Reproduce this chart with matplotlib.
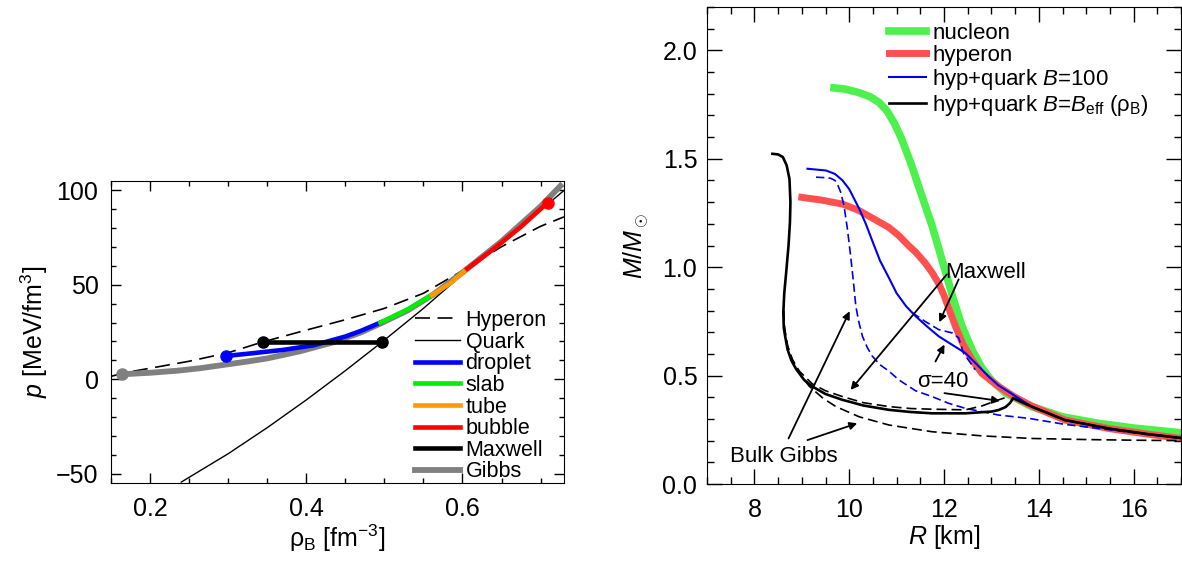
import matplotlib
matplotlib.use("Agg")
import matplotlib.pyplot as plt
from matplotlib.ticker import MultipleLocator, FormatStrFormatter

plt.rcParams["font.family"] = ["Liberation Sans", "DejaVu Sans"]
plt.rcParams["mathtext.fontset"] = "custom"
plt.rcParams["mathtext.rm"] = "Liberation Sans"
plt.rcParams["mathtext.it"] = "Liberation Sans:italic"
plt.rcParams["font.size"] = 18
plt.rcParams["lines.solid_joinstyle"] = "round"
plt.rcParams["lines.dash_joinstyle"] = "round"

# ---- left panel: p(rho_B) ----
hyp_rho = [0.15, 0.17, 0.2, 0.25, 0.3, 0.344, 0.4, 0.45, 0.5, 0.55, 0.6, 0.65, 0.7, 0.73]
hyp_p = [1.5, 3.6, 5.8, 9.5, 14.0, 19.7, 26.0, 31.5, 37.5, 45.5, 57.5, 70.2, 81.0, 86.0]

qrk_rho = [0.24, 0.3, 0.35, 0.4, 0.45, 0.497, 0.55, 0.6, 0.65, 0.7, 0.73]
qrk_p = [-54.5, -39.5, -25.7, -11.0, 4.5, 19.7, 37.5, 55.5, 72.5, 89.5, 100.0]

gibbs_rho = [0.164, 0.2, 0.235, 0.264, 0.298, 0.325, 0.35, 0.392, 0.435, 0.47, 0.495,
             0.53, 0.563, 0.6, 0.65, 0.7, 0.728]
gibbs_p = [2.6, 3.4, 4.5, 5.8, 7.8, 9.4, 11.0, 14.8, 19.6, 24.8, 29.5,
           36.5, 45.0, 56.5, 73.0, 91.5, 103.5]

drop_rho = [0.297, 0.33, 0.37, 0.41, 0.45, 0.47, 0.495]
drop_p = [12.3, 13.7, 15.5, 18.0, 22.6, 25.6, 30.0]
slab_rho = [0.495, 0.53, 0.561]
slab_p = [30.0, 37.0, 44.6]
tube_rho = [0.561, 0.585, 0.606]
tube_p = [44.6, 51.0, 58.5]
bub_rho = [0.606, 0.64, 0.675, 0.709]
bub_p = [58.5, 69.0, 80.8, 93.5]
maxw_rho = [0.344, 0.497]
maxw_p = [19.7, 19.7]

# ---- right panel: M(R) ----
nuc_R = [9.68, 9.9, 10.21, 10.45, 10.63, 10.8, 10.95, 11.1, 11.3, 11.5, 11.75, 12.03,
         12.2, 12.38, 12.6, 12.8, 13.0, 13.3, 13.85, 14.5, 15.25, 16.0, 17.0]
nuc_M = [1.827, 1.822, 1.805, 1.785, 1.76, 1.72, 1.665, 1.595, 1.48, 1.35, 1.19, 0.98,
         0.85, 0.728, 0.615, 0.535, 0.478, 0.42, 0.357, 0.31, 0.28, 0.258, 0.236]

hyp_R = [9.0, 9.4, 9.86, 10.2, 10.5, 10.84, 11.05, 11.25, 11.4, 11.6, 11.75, 11.9, 12.0,
         12.24, 12.4, 12.59, 12.8, 13.15, 13.5, 13.85, 14.55, 15.5, 16.3, 17.0]
hyp_M = [1.322, 1.31, 1.291, 1.262, 1.225, 1.183, 1.145, 1.10, 1.07, 1.02, 0.975, 0.92, 0.87,
         0.728, 0.645, 0.573, 0.51, 0.45, 0.40, 0.36, 0.295, 0.255, 0.23, 0.21]

b100_R = [9.12, 9.51, 9.7, 9.86, 10.0, 10.21, 10.35, 10.49, 10.65, 10.84, 11.0, 11.2, 11.4,
          11.65, 11.89, 12.15, 12.45, 12.7, 12.94, 13.15, 13.4, 13.85, 14.55, 15.5, 16.3, 17.0]
b100_M = [1.454, 1.446, 1.43, 1.40, 1.36, 1.27, 1.20, 1.12, 1.03, 0.95, 0.88, 0.82, 0.774,
          0.725, 0.681, 0.645, 0.604, 0.55, 0.496, 0.455, 0.42, 0.357, 0.295, 0.255, 0.23, 0.212]

b100_max_R = [11.33, 11.6, 11.89, 12.17, 12.31, 12.41, 12.66]
b100_max_M = [0.79, 0.75, 0.712, 0.697, 0.674, 0.604, 0.527]

b100_gib_R = [9.30, 9.5, 9.61, 9.7, 9.75, 9.82, 9.89, 9.96, 10.03, 10.09, 10.14, 10.2, 10.28,
              10.38, 10.49, 10.65, 10.84, 11.05, 11.4, 11.75, 12.1, 12.45, 13.15, 13.78,
              14.55, 15.5, 16.3, 17.0]
b100_gib_M = [1.415, 1.413, 1.41, 1.40, 1.384, 1.346, 1.284, 1.18, 1.052, 0.93, 0.82, 0.75,
              0.681, 0.63, 0.589, 0.55, 0.52, 0.48, 0.43, 0.403, 0.372, 0.349, 0.318, 0.303,
              0.275, 0.25, 0.228, 0.212]

beff_R = [8.38, 8.5, 8.6, 8.68, 8.74, 8.76, 8.75, 8.72, 8.67, 8.63, 8.61, 8.62, 8.65, 8.7,
          8.78, 8.88, 9.05, 9.22, 9.5, 9.86, 10.3, 10.84, 11.3, 11.75, 12.45, 13.0, 13.15,
          13.3, 13.39, 13.46, 13.85, 14.55, 15.5, 16.3, 17.0]
beff_M = [1.523, 1.52, 1.508, 1.47, 1.407, 1.3, 1.207, 1.1, 0.975, 0.88, 0.79, 0.72, 0.68,
          0.62, 0.57, 0.53, 0.48, 0.45, 0.415, 0.388, 0.362, 0.342, 0.332, 0.326, 0.326,
          0.334, 0.341, 0.355, 0.373, 0.396, 0.357, 0.295, 0.255, 0.23, 0.212]

beff_s40_R = [8.62, 8.64, 8.7, 8.8, 8.95, 9.22, 9.5, 9.86, 10.3, 10.84, 11.3, 11.75, 12.45,
              12.8, 13.15, 13.36]
beff_s40_M = [0.80, 0.70, 0.63, 0.575, 0.52, 0.462, 0.43, 0.403, 0.375, 0.357, 0.348, 0.345,
              0.342, 0.36, 0.388, 0.403]

beff_gib_R = [8.61, 8.63, 8.7, 8.8, 8.95, 9.16, 9.45, 9.72, 10.21, 10.84, 11.75, 12.8, 13.85,
              15.0, 16.0, 17.0]
beff_gib_M = [0.80, 0.728, 0.64, 0.573, 0.51, 0.45, 0.395, 0.357, 0.31, 0.272, 0.241, 0.222,
              0.21, 0.205, 0.202, 0.200]


fig = plt.figure(figsize=(11.82, 5.63), dpi=100)
ax1 = fig.add_axes([111 / 1182, 1 - 483 / 563, 453 / 1182, 302 / 563])
ax2 = fig.add_axes([707 / 1182, 1 - 484 / 563, 474 / 1182, 477 / 563])

# left
ax1.plot(hyp_rho, hyp_p, color="k", lw=1.2, dashes=(9, 4.5), label="Hyperon")
ax1.plot(qrk_rho, qrk_p, color="k", lw=1.0, label="Quark")
ax1.plot(gibbs_rho, gibbs_p, color="#808080", lw=4.2, solid_capstyle="butt", zorder=2)
ax1.plot(drop_rho, drop_p, color="#0000ff", lw=3.3, label="droplet", zorder=3)
ax1.plot(slab_rho, slab_p, color="#00ee00", lw=3.3, label="slab", zorder=3)
ax1.plot(tube_rho, tube_p, color="#ff9900", lw=3.3, label="tube", zorder=3)
ax1.plot(bub_rho, bub_p, color="#ff0000", lw=3.3, label="bubble", zorder=3)
ax1.plot(maxw_rho, maxw_p, color="k", lw=3.3, label="Maxwell", zorder=3)
ax1.plot([], [], color="#808080", lw=4.2, label="Gibbs")

ax1.plot(gibbs_rho[0], gibbs_p[0], "o", color="#808080", ms=8, zorder=4)
ax1.plot(drop_rho[0], drop_p[0], "o", color="#0000ff", ms=8, zorder=4)
ax1.plot(maxw_rho, maxw_p, "o", color="k", ms=8, zorder=4)
ax1.plot(bub_rho[-1], bub_p[-1], "o", color="#ff0000", ms=8, zorder=4)

ax1.set_xlim(0.15, 0.73)
ax1.set_ylim(-55, 105)
ax1.xaxis.set_major_locator(MultipleLocator(0.2))
ax1.xaxis.set_minor_locator(MultipleLocator(0.05))
ax1.yaxis.set_major_locator(MultipleLocator(50))
ax1.yaxis.set_minor_locator(MultipleLocator(10))
ax1.xaxis.set_major_formatter(FormatStrFormatter("%.1f"))
ax1.tick_params(which="both", direction="in", top=True, right=True, width=1)
ax1.tick_params(which="major", length=7)
ax1.tick_params(which="minor", length=3.5)
ax1.tick_params(axis="x", pad=10)
ax1.tick_params(axis="y", pad=9)
ax1.set_xlabel("ρ$_\\mathrm{B}$ [fm$^{-3}$]", labelpad=1)
ax1.set_ylabel("$p$ [MeV/fm$^3$]", labelpad=4)
ax1.legend(loc="upper left", bbox_to_anchor=(0.671, 0.573), frameon=False,
           fontsize=15.5, handlelength=2.1, handletextpad=0.25, labelspacing=0.03,
           borderpad=0, borderaxespad=0)

# right
ax2.plot(nuc_R, nuc_M, color="#4df04d", lw=5.5, label="nucleon", zorder=1)
ax2.plot(hyp_R, hyp_M, color="#ff5050", lw=5.0, label="hyperon", zorder=1.5)
ax2.plot(b100_R, b100_M, color="#0000ee", lw=1.5, label="hyp+quark $B$=100", zorder=3)
ax2.plot(b100_max_R, b100_max_M, color="#0000ee", lw=1.2, dashes=(5, 2.5), zorder=3)
ax2.plot(b100_gib_R, b100_gib_M, color="#0000ee", lw=1.2, dashes=(5, 2.5), zorder=3)
ax2.plot(beff_R, beff_M, color="k", lw=1.9,
         label="hyp+quark $B$=$B_\\mathrm{eff}$ (ρ$_\\mathrm{B}$)", zorder=4)
ax2.plot(beff_s40_R, beff_s40_M, color="k", lw=1.2, dashes=(6, 3), zorder=4)
ax2.plot(beff_gib_R, beff_gib_M, color="k", lw=1.2, dashes=(6, 3), zorder=4)

arrow = dict(arrowstyle="-|>", color="k", lw=1.3, shrinkA=0, shrinkB=0, mutation_scale=11)
ax2.text(12.03, 0.952, "Maxwell", fontsize=16, ha="left", va="baseline")
ax2.annotate("", xy=(10.03, 0.434), xytext=(12.06, 0.967), arrowprops=arrow)
ax2.annotate("", xy=(11.90, 0.746), xytext=(12.31, 0.944), arrowprops=arrow)
ax2.text(11.43, 0.4495, "σ=40", fontsize=16, ha="left", va="baseline")
ax2.annotate("", xy=(12.01, 0.643), xytext=(11.82, 0.565), arrowprops=arrow)
ax2.annotate("", xy=(13.18, 0.383), xytext=(12.01, 0.419), arrowprops=arrow)
ax2.text(7.475, 0.102, "Bulk Gibbs", fontsize=16, ha="left", va="baseline")
ax2.annotate("", xy=(10.01, 0.797), xytext=(8.72, 0.21), arrowprops=arrow)
ax2.annotate("", xy=(10.17, 0.28), xytext=(9.12, 0.2025), arrowprops=arrow)

ax2.set_xlim(7, 17)
ax2.set_ylim(0, 2.2)
ax2.xaxis.set_major_locator(MultipleLocator(2))
ax2.xaxis.set_minor_locator(MultipleLocator(0.5))
ax2.yaxis.set_major_locator(MultipleLocator(0.5))
ax2.yaxis.set_minor_locator(MultipleLocator(0.1))
ax2.yaxis.set_major_formatter(FormatStrFormatter("%.1f"))
ax2.tick_params(which="both", direction="in", top=True, right=True, width=1)
ax2.tick_params(which="major", length=11)
ax2.tick_params(which="minor", length=5)
ax2.tick_params(axis="x", pad=10)
ax2.tick_params(axis="y", pad=7)
ax2.set_xlabel("$R$ [km]", labelpad=1)
ax2.set_ylabel("$M/M_\\odot$", labelpad=8)
ax2.legend(loc="upper left", bbox_to_anchor=(0.383, 0.967), frameon=False,
           fontsize=16, handlelength=1.7, handletextpad=0.27, labelspacing=0.05,
           borderpad=0, borderaxespad=0)

fig.savefig("out.png", dpi=100)
